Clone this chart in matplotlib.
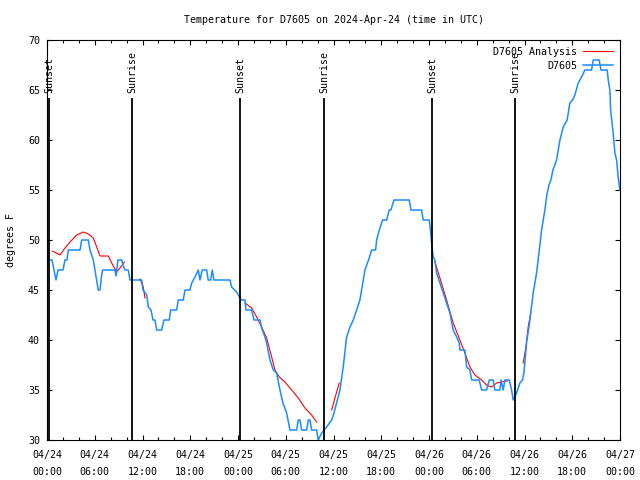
import numpy as np
import matplotlib
matplotlib.use("Agg")
import matplotlib.pyplot as plt

# hours since 2024-04-24 00:00 UTC, temperature in F
obs_hours = [0.13, 0.19, 0.63, 1.13, 1.38, 2.01, 2.26, 2.51, 2.68, 4.15, 4.36, 5.19,
             5.40, 5.62, 5.82, 6.03, 6.24, 6.44, 6.66, 6.87, 7.00, 8.54, 8.67, 8.92,
             9.38, 9.55, 9.80, 10.21, 10.43, 11.90, 12.06, 12.53, 12.73, 13.07, 13.32,
             13.57, 13.78, 14.41, 14.70, 15.36, 15.54, 16.29, 16.49, 17.12, 17.34,
             17.96, 18.18, 18.59, 19.01, 19.22, 19.51, 20.06, 20.26, 20.57, 20.77,
             20.98, 22.99, 23.20, 23.83, 24.25, 24.46, 24.87, 25.00, 25.72, 26.01,
             26.76, 26.97, 27.39, 27.60, 28.02, 28.43, 28.86, 29.27, 29.65, 30.11,
             30.53, 31.37, 31.57, 31.78, 32.00, 32.63, 32.83, 33.04, 33.25, 33.88,
             34.08, 34.51, 35.14, 35.77, 36.06, 36.39, 36.81, 37.22, 37.65, 38.07,
             38.48, 38.91, 39.32, 39.74, 39.95, 40.49, 40.79, 41.29, 41.42, 41.75,
             42.17, 42.68, 43.00, 43.22, 43.59, 45.52, 45.73, 47.07, 47.27, 48.03,
             48.20, 48.37, 48.53, 48.74, 48.96, 49.37, 49.79, 50.21, 50.63, 51.04,
             51.47, 51.80, 51.88, 52.51, 52.73, 53.14, 53.36, 54.31, 54.61, 55.24,
             55.57, 56.07, 56.28, 56.91, 57.04, 57.32, 57.54, 58.08, 58.38, 58.58,
             59.01, 59.42, 59.76, 59.92, 60.26, 60.68, 61.09, 61.52, 61.85, 62.15,
             62.35, 62.56, 62.81, 63.07, 63.32, 63.57, 64.03, 64.45, 64.86, 65.36,
             65.70, 66.04, 66.33, 66.75, 67.17, 67.59, 68.43, 68.63, 69.39, 69.60,
             70.39, 70.52, 70.73, 70.82, 71.02, 71.14, 71.36, 71.57, 71.77, 71.98]
obs_temps = [49, 48, 48, 46, 47, 47, 48, 48, 49, 49, 50, 50,
             49, 48.5, 48, 47, 46, 45, 45, 46.5, 47, 47, 46.4, 48,
             48, 47.5, 47, 47, 46, 46, 45, 44.5, 43.3, 43, 42,
             42, 41, 41, 42, 42, 43, 43, 44, 44, 45,
             45, 45.7, 46.3, 47, 46, 47, 47, 46, 46, 47,
             46, 46, 45.3, 44.8, 44.2, 44, 44, 43, 43, 42,
             42, 41.2, 40.3, 39.7, 38, 37, 36.7, 35, 33.7, 32.7,
             31, 31, 32, 32, 31, 31, 32, 32, 31, 31,
             30, 30.7, 31.3, 32, 32.7, 33.7, 35, 37.3, 40.3, 41.3,
             42, 43, 44, 46, 47, 48.2, 49, 49, 50, 51,
             52, 52, 53, 53, 54, 54, 53, 53, 52, 52,
             50.8, 49.3, 48.3, 48, 46.7, 45.7, 44.7, 43.7, 42.7, 41,
             40.3, 39.7, 39, 39, 37.3, 37, 36, 36, 35, 35,
             36, 36, 35, 35, 36, 35, 36, 36, 35, 34,
             34.7, 35.7, 36, 36.7, 39.7, 42, 44.7, 46.7, 49, 51,
             52, 53, 54.5, 55.5, 56, 57, 58, 60, 61.3, 62,
             63.7, 64, 64.5, 65.7, 66.3, 67, 67, 68, 68, 67,
             67, 66, 65, 63, 61.5, 60.7, 58.7, 58, 56.3, 55]

# analysis curve, drawn in separate pieces
ana_hours = [
    [0.67, 1.63, 2.26, 2.89, 3.73, 4.56, 5.19, 5.82, 6.24, 6.66, 7.70, 8.13, 8.76, 9.17, 9.71],
    [11.68, 12.10, 12.31],
    [24.87, 25.72, 26.34, 26.97, 27.60, 28.23, 28.64, 29.18, 29.90, 30.74, 31.57, 32.41, 33.25, 33.88],
    [35.77, 36.18, 36.72],
    [48.74, 49.37, 50.21, 51.04, 51.88, 52.51, 53.14, 53.77, 54.61, 55.24, 55.87, 56.50, 57.12, 57.83],
    [59.84, 60.18, 60.46, 60.80],
]
ana_temps = [
    [48.9, 48.5, 49.2, 49.8, 50.5, 50.8, 50.6, 50.2, 49.3, 48.4, 48.4, 47.7, 46.8, 47.2, 47.8],
    [46.1, 45.3, 44.2],
    [43.7, 43.2, 42.3, 41.3, 40.2, 38.3, 37.0, 36.3, 35.8, 35.0, 34.2, 33.2, 32.5, 31.8],
    [33.0, 34.2, 35.7],
    [47.8, 46.2, 44.0, 41.7, 40.0, 38.7, 37.3, 36.5, 36.0, 35.5, 35.3, 35.7, 35.8, 35.9],
    [37.7, 39.3, 41.3, 42.8],
]

sun_hours = [0.25, 10.68, 24.25, 34.80, 48.37, 58.80]
sun_names = ["Sunset", "Sunrise", "Sunset", "Sunrise", "Sunset", "Sunrise"]

tick_hours = list(range(0, 73, 6))
tick_labels = ["04/24\n00:00", "04/24\n06:00", "04/24\n12:00", "04/24\n18:00",
               "04/25\n00:00", "04/25\n06:00", "04/25\n12:00", "04/25\n18:00",
               "04/26\n00:00", "04/26\n06:00", "04/26\n12:00", "04/26\n18:00",
               "04/27\n00:00"]

plt.rcParams['font.family'] = ['DejaVu Sans Mono']
plt.rcParams['font.size'] = 7.2

fig = plt.figure(figsize=(6.4, 4.8), dpi=100)
ax = fig.add_axes([47 / 640, 40 / 480, 573 / 640, 400 / 480])

red = '#ff0000'
blue = '#1a8cff'

for i, (hh, tt) in enumerate(zip(ana_hours, ana_temps)):
    ax.plot(hh, tt, color=red, lw=0.8, label='D7605 Analysis' if i == 0 else None)
ax.plot(obs_hours, obs_temps, color=blue, lw=1.1, label='D7605')

for h, name in zip(sun_hours, sun_names):
    ax.vlines(h, 30, 64.2, color='black', lw=1.3)
    ax.text(h, 64.7, name, rotation=90, ha='center', va='bottom')

ax.set_xlim(0, 72)
ax.set_ylim(30, 70)
ax.set_xticks(tick_hours)
ax.set_xticklabels(tick_labels, linespacing=1.85)
ax.set_xticks(np.arange(0, 73, 2), minor=True)
ax.set_yticks(range(30, 71, 5))
ax.tick_params(which='both', direction='in', top=True, right=True, width=0.8)
ax.tick_params(which='major', length=3.6, pad=5)
ax.tick_params(axis='x', which='major', pad=7)
ax.tick_params(which='minor', length=2)
for s in ax.spines.values():
    s.set_linewidth(0.8)

ax.set_ylabel('degrees F', labelpad=9)
ax.set_title('Temperature for D7605 on 2024-Apr-24 (time in UTC)', fontsize=7.2, pad=12)

ax.legend(loc='upper right', frameon=False, markerfirst=False, handlelength=3,
          borderaxespad=0.3, labelspacing=0.4, handletextpad=0.6)

fig.savefig('out.png', dpi=100)
